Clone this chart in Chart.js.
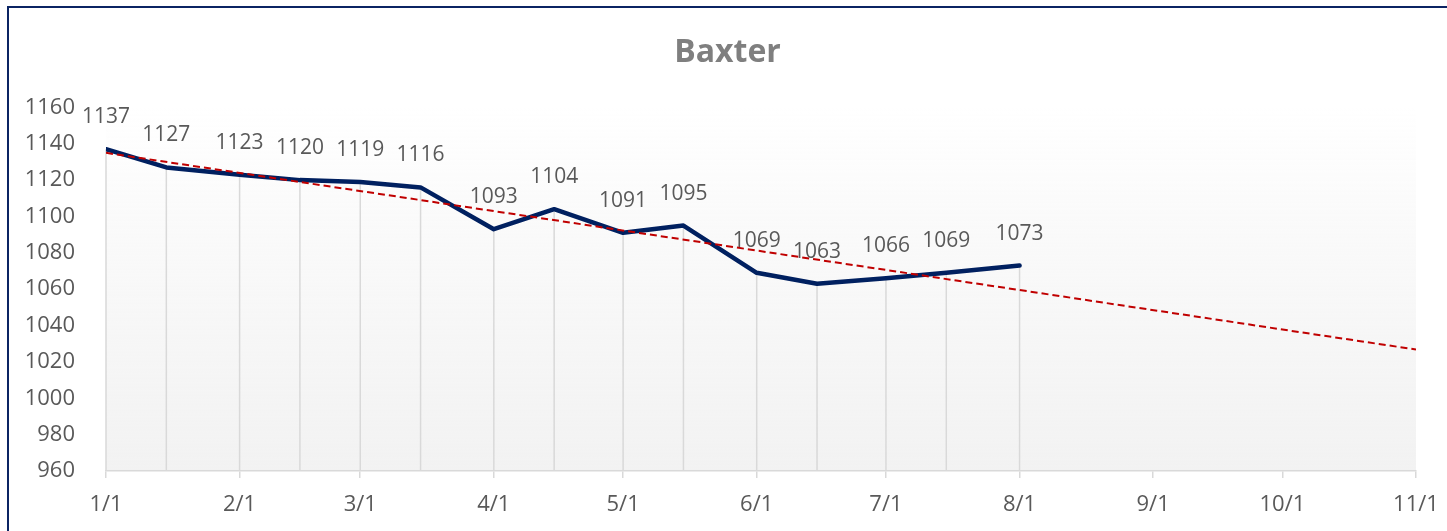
<!DOCTYPE html>
<html>
<head>
<meta charset="utf-8">
<script src="https://cdn.jsdelivr.net/npm/chart.js@4.4.1/dist/chart.umd.min.js"></script>
<style>
    html, body { margin: 0; padding: 0; background: #fff; overflow: hidden; }
    #wrap { position: relative; width: 1447px; height: 531px; }
</style>
</head>
<body>
<div id="wrap"><canvas id="baxterChart"></canvas></div>
<script>
const chartTitle = "Baxter";

// day offsets from Jan 1 (1st and 15th of each month)
const pointDays = [0, 14, 31, 45, 59, 73, 90, 104, 120, 134, 151, 165, 181, 195, 212];
const pointValues = [1137, 1127, 1123, 1120, 1119, 1116, 1093, 1104, 1091, 1095, 1069, 1063, 1066, 1069, 1073];

// linear trend line at 1/1 and 11/1
const trendDays = [0, 304];
const trendValues = [1135, 1026.8];

// x tick labels at month starts
const monthStartDays = [0, 31, 59, 90, 120, 151, 181, 212, 243, 273, 304];
const monthLabels = ["1/1", "2/1", "3/1", "4/1", "5/1", "6/1", "7/1", "8/1", "9/1", "10/1", "11/1"];

const FONT = "'Open Sans', 'Liberation Sans', sans-serif";
const TEXT_GRAY = "#595959";
const LINE_GRAY = "#d9d9d9";

/* ---------- plugins ---------- */

// frame round the whole chart, gradient plot background, centred title
const framePlugin = {
    id: "frame",
    beforeDraw(chart) {
        const { ctx, chartArea: a } = chart;
        ctx.save();
        const grad = ctx.createLinearGradient(0, a.top, 0, a.bottom);
        grad.addColorStop(0, "rgba(242,242,242,0)");
        grad.addColorStop(0.3, "rgba(242,242,242,0.35)");
        grad.addColorStop(1, "rgba(242,242,242,1)");
        ctx.fillStyle = grad;
        ctx.fillRect(a.left, a.top, a.right - a.left, a.bottom - a.top);

        ctx.strokeStyle = "#0b2463";
        ctx.lineWidth = 2;
        ctx.beginPath();
        ctx.moveTo(8, chart.height + 5);
        ctx.lineTo(8, 7);
        ctx.lineTo(chart.width + 5, 7);
        ctx.stroke();

        // title is centred on the outer frame, not the plot
        ctx.font = "bold 32px " + FONT;
        ctx.fillStyle = "#7f7f7f";
        ctx.textAlign = "center";
        ctx.textBaseline = "middle";
        ctx.fillText(chartTitle, (8 + chart.width) / 2, 53.2);
        ctx.restore();
    },
};

// Excel-style drop lines from each point to the axis
const dropLinePlugin = {
    id: "dropLines",
    beforeDatasetsDraw(chart) {
        const { ctx, chartArea: a } = chart;
        const meta = chart.getDatasetMeta(0);
        ctx.save();
        ctx.strokeStyle = LINE_GRAY;
        ctx.lineWidth = 1.5;
        meta.data.forEach((pt) => {
            ctx.beginPath();
            ctx.moveTo(pt.x, pt.y);
            ctx.lineTo(pt.x, a.bottom);
            ctx.stroke();
        });
        ctx.restore();
    },
};

// value labels above each point (drawn before the trend line)
const valueLabelPlugin = {
    id: "valueLabels",
    afterDatasetDraw(chart, args) {
        if (args.index !== 0) return;
        const { ctx } = chart;
        ctx.save();
        ctx.font = "21px " + FONT;
        ctx.fillStyle = TEXT_GRAY;
        ctx.textAlign = "center";
        ctx.textBaseline = "middle";
        args.meta.data.forEach((pt, i) => {
            ctx.fillText(String(pointValues[i]), pt.x, pt.y - 32);
        });
        ctx.restore();
    },
};

/* ---------- chart ---------- */

new Chart(document.getElementById("baxterChart"), {
    type: "line",
    data: {
        datasets: [
            {
                label: chartTitle,
                data: pointDays.map((d, i) => ({ x: d, y: pointValues[i] })),
                borderColor: "#002060",
                borderWidth: 4.5,
                borderCapStyle: "round",
                borderJoinStyle: "round",
                pointRadius: 0,
                fill: false,
                tension: 0,
                order: 1,
            },
            {
                label: "Trend",
                data: trendDays.map((d, i) => ({ x: d, y: trendValues[i] })),
                borderColor: "#c00000",
                borderWidth: 2,
                borderDash: [7, 4],
                pointRadius: 0,
                fill: false,
                order: 0,
            },
        ],
    },
    options: {
        responsive: true,
        maintainAspectRatio: false,
        animation: false,
        layout: { autoPadding: false, padding: { left: 0, right: 31, top: 107.4, bottom: 0 } },
        plugins: {
            legend: { display: false },
            tooltip: { enabled: false },
            title: { display: false },
        },
        scales: {
            x: {
                type: "linear",
                min: 0,
                max: 304,
                afterBuildTicks(scale) {
                    scale.ticks = monthStartDays.map((v) => ({ value: v }));
                },
                ticks: {
                    autoSkip: false,
                    maxRotation: 0,
                    color: TEXT_GRAY,
                    font: { family: FONT, size: 22 },
                    padding: 14,
                    callback: (v) => monthLabels[monthStartDays.indexOf(v)],
                },
                grid: {
                    display: true,
                    drawOnChartArea: false,
                    drawTicks: true,
                    tickLength: 7,
                    color: LINE_GRAY,
                    lineWidth: 1.5,
                },
                border: { display: true, color: LINE_GRAY, width: 1.5 },
                afterFit(scale) {
                    scale.height = 60;
                    scale.paddingLeft = 0;
                    scale.paddingRight = 0;
                },
            },
            y: {
                min: 960,
                max: 1160,
                ticks: {
                    stepSize: 20,
                    color: TEXT_GRAY,
                    font: { family: FONT, size: 22 },
                    padding: 31,
                    callback: (v) => String(v),
                },
                grid: { display: false, drawTicks: false },
                border: { display: false },
                afterFit(scale) {
                    scale.width = 106;
                },
            },
        },
    },
    plugins: [framePlugin, dropLinePlugin, valueLabelPlugin],
});
</script>
</body>
</html>
